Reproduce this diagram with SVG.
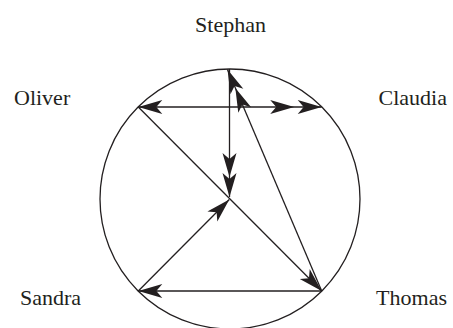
<svg xmlns="http://www.w3.org/2000/svg" width="453" height="328" viewBox="0 0 453 328">
<style>
text{font-family:"Liberation Serif","Times New Roman",serif;font-size:22px;fill:#231f20}
.c{fill:none;stroke:#231f20;stroke-width:1.3}
.l{fill:none;stroke:#231f20;stroke-width:1.3}
.h{fill:#231f20}
</style>
<defs>
<marker id="a" markerUnits="userSpaceOnUse" viewBox="-26 -8 28 16" refX="0" refY="0" markerWidth="28" markerHeight="16" orient="auto-start-reverse" overflow="visible">
<path class="h" d="M0,0 L-24,-7 L-18,0 L-24,7 Z"/>
</marker>
<marker id="d" markerUnits="userSpaceOnUse" viewBox="-50 -8 52 16" refX="0" refY="0" markerWidth="52" markerHeight="16" orient="auto" overflow="visible">
<path class="h" d="M0,0 L-24,-7 L-18,0 L-24,7 Z M-20,0 L-44,-7 L-38,0 L-44,7 Z"/>
</marker>
<marker id="dh" markerUnits="userSpaceOnUse" viewBox="-55 -8 57 16" refX="0" refY="0" markerWidth="57" markerHeight="16" orient="auto" overflow="visible">
<path class="h" d="M0,0 L-24,-7 L-18,0 L-24,7 Z M-27.5,0 L-51.5,-7 L-45.5,0 L-51.5,7 Z"/>
</marker>
</defs>
<circle class="c" cx="230" cy="199" r="130"/>
<g id="connectors">
<path class="l" d="M138.3,107 H321.7" marker-start="url(#a)" marker-end="url(#dh)"/>
<path class="l" d="M229.5,69 V197" marker-end="url(#d)"/>
<path class="l" d="M321.7,291 L227.5,69.5" marker-end="url(#d)"/>
<path class="l" d="M138.3,107 L321.7,291" marker-end="url(#a)"/>
<path class="l" d="M138.3,291 L229.3,199.5" marker-end="url(#a)"/>
<path class="l" d="M321.7,291 H138.3" marker-end="url(#a)"/>
</g>
<g id="stephan"><text x="230.5" y="31.5" text-anchor="middle">Stephan</text></g>
<g id="oliver"><text x="14" y="105">Oliver</text></g>
<g id="claudia"><text x="447" y="105" text-anchor="end">Claudia</text></g>
<g id="sandra"><text x="20" y="304.5">Sandra</text></g>
<g id="thomas"><text x="447" y="304.5" text-anchor="end">Thomas</text></g>
</svg>
